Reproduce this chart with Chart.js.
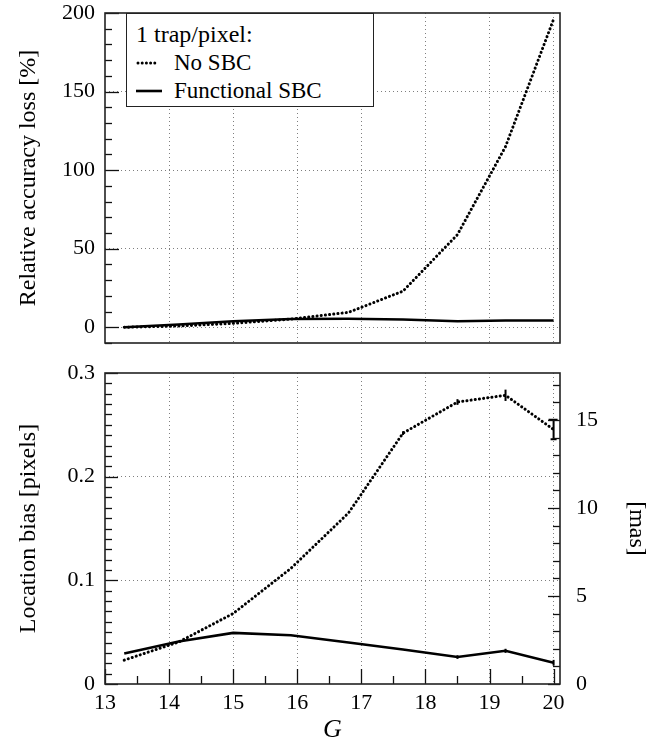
<!DOCTYPE html>
<html>
<head>
<meta charset="utf-8">
<script src="https://cdn.jsdelivr.net/npm/chart.js@4/dist/chart.umd.min.js"></script>
<style>
  html, body { margin: 0; padding: 0; background: #fff; }
  #wrap { position: relative; width: 662px; height: 743px; }
  #topChart { position: absolute; left: 0; top: 0; }
  #bottomChart { position: absolute; left: 0; top: 360px; }
  #legend {
    position: absolute; left: 126px; top: 13px; width: 248px; height: 94px;
    box-sizing: border-box; border: 1.5px solid #222; background: #fff;
    font-family: "Liberation Serif", serif; font-size: 23px; color: #000;
  }
  #legend .row { position: absolute; left: 0; height: 28px; line-height: 28px; white-space: nowrap; }
  #legend .row span { position: absolute; top: 0; }
  #legend svg { position: absolute; top: 11px; }
</style>
</head>
<body>
<div id="wrap">
  <canvas id="topChart" width="662" height="360"></canvas>
  <canvas id="bottomChart" width="662" height="383"></canvas>
  <div id="legend">
    <div class="row" style="top:6px"><span style="left:9px; font-size:24px">1 trap/pixel:</span></div>
    <div class="row" style="top:35px">
      <svg width="30" height="6" style="left:9px"><line x1="2" y1="3" x2="22" y2="3" stroke="#000" stroke-width="3" stroke-linecap="round" stroke-dasharray="0 4.2"/></svg>
      <span style="left:47px">No SBC</span>
    </div>
    <div class="row" style="top:63px">
      <svg width="30" height="6" style="left:9px"><line x1="0" y1="3" x2="26" y2="3" stroke="#000" stroke-width="2.6"/></svg>
      <span style="left:47px">Functional SBC</span>
    </div>
  </div>
</div>
<script>
/* ---------- DATA ---------- */

const gMag = [13.3, 14.15, 15.0, 15.9, 16.8, 17.65, 18.5, 19.25, 20.0];

// top panel: relative accuracy loss [%]
const lossNoSbc = [0, 0.8, 2.5, 5.2, 9.5, 23, 59, 115, 196];
const lossFunctional = [0, 1.8, 3.8, 5.3, 5.4, 5.0, 3.8, 4.3, 4.3];

// bottom panel: location bias [pixels]
const biasNoSbc = [0.023, 0.0405, 0.068, 0.1115, 0.165, 0.242, 0.272, 0.2785, 0.2455];
const biasFunctional = [0.0295, 0.041, 0.0493, 0.047, 0.040, 0.0333, 0.026, 0.032, 0.0205];
const errNoSbc = [0, 0, 0, 0, 0, 0.0008, 0.0018, 0.0045, 0.0095];
const errFunctional = [0, 0, 0, 0, 0, 0, 0.0008, 0.001, 0.0018];

const xTickLabels = [13, 14, 15, 16, 17, 18, 19, 20];
const pixelToMas = 58.9;

/* ---------- STYLE HELPERS ---------- */

const FONT = '"Liberation Serif", serif';
const GRID = "rgba(0,0,0,0.5)";
const DOTS = [1, 3];

const near = (v, step) => Math.abs(v / step - Math.round(v / step)) < 1e-6;

// no extra room for edge labels: the plot box is placed by hand
function noEdgePad(s) {
  s.paddingTop = 0;
  s.paddingBottom = 0;
  s.paddingLeft = 0;
  s.paddingRight = 0;
}

function dottedSet(values, errors) {
  return {
    data: values,
    errors,
    borderColor: "#000",
    borderWidth: 3,
    borderDash: [0.1, 4.1],
    borderCapStyle: "round",
    pointRadius: 0,
    tension: 0,
  };
}

function solidSet(values, errors) {
  return {
    data: values,
    errors,
    borderColor: "#000",
    borderWidth: 2.6,
    pointRadius: 0,
    tension: 0,
  };
}

/* ---------- PLUGINS ---------- */

// inward tick marks + frame around the plot area
function makeTickPlugin(axes) {
  return {
    id: "tickMarks",
    afterDraw(chart) {
      const { ctx, chartArea: a } = chart;
      ctx.save();
      ctx.strokeStyle = "#111";
      ctx.lineWidth = 1.3;
      axes.forEach((ax) => {
        const scale = chart.scales[ax.id];
        scale.ticks.forEach((t) => {
          const len = ax.isMajor(t.value) ? ax.major : ax.minor;
          const p = Math.round(scale.getPixelForValue(t.value)) + 0.5;
          ctx.beginPath();
          if (ax.side === "left") {
            ctx.moveTo(a.left, p);
            ctx.lineTo(a.left + len, p);
          } else if (ax.side === "right") {
            ctx.moveTo(a.right, p);
            ctx.lineTo(a.right - len, p);
          } else {
            ctx.moveTo(p, a.bottom);
            ctx.lineTo(p, a.bottom - len);
          }
          ctx.stroke();
        });
      });
      ctx.lineWidth = 1.6;
      ctx.strokeStyle = "#222";
      ctx.strokeRect(a.left, a.top, a.right - a.left, a.bottom - a.top);
      ctx.restore();
    },
  };
}

const errorBars = {
  id: "errorBars",
  afterDatasetsDraw(chart) {
    const { ctx } = chart;
    ctx.save();
    ctx.strokeStyle = "#000";
    ctx.lineWidth = 2;
    chart.data.datasets.forEach((ds, i) => {
      if (!ds.errors) return;
      const meta = chart.getDatasetMeta(i);
      const xs = chart.scales[meta.xAxisID];
      const ys = chart.scales[meta.yAxisID];
      ds.data.forEach((v, j) => {
        const e = ds.errors[j];
        if (!e) return;
        const x = xs.getPixelForValue(gMag[j]);
        const y1 = ys.getPixelForValue(v + e);
        const y2 = ys.getPixelForValue(v - e);
        const cap = e > 0.006 ? 4 : 0;
        ctx.beginPath();
        ctx.moveTo(x, y1 - 1);
        ctx.lineTo(x, y2 + 1);
        if (cap) {
          ctx.moveTo(x - cap - 1, y1);
          ctx.lineTo(x + cap, y1);
          ctx.moveTo(x - cap + 1, y2);
          ctx.lineTo(x + cap - 1, y2);
        }
        ctx.stroke();
      });
    });
    ctx.restore();
  },
};

/* ---------- TOP PANEL ---------- */

new Chart(document.getElementById("topChart"), {
  type: "line",
  data: {
    labels: gMag,
    datasets: [dottedSet(lossNoSbc), solidSet(lossFunctional)],
  },
  options: {
    responsive: false,
    animation: false,
    layout: { padding: { top: 13, right: 102, left: 0, bottom: 0 } },
    plugins: { legend: { display: false }, tooltip: { enabled: false } },
    scales: {
      x: {
        type: "linear",
        min: 13,
        max: 20.1,
        border: { display: false, dash: DOTS },
        grid: {
          drawTicks: false,
          color: (c) => (Number.isInteger(c.tick.value) && c.tick.value > 13 ? GRID : "transparent"),
        },
        ticks: { display: false, stepSize: 1, includeBounds: false },
        afterFit: (s) => { s.height = 17; noEdgePad(s); },
      },
      y: {
        min: -10,
        max: 200,
        border: { display: false, dash: DOTS },
        grid: {
          drawTicks: false,
          color: (c) => (c.tick.value >= 0 && c.tick.value < 200 && near(c.tick.value, 50) ? GRID : "transparent"),
        },
        ticks: {
          stepSize: 10,
          padding: 10,
          autoSkip: false,
          color: "#000",
          font: { family: FONT, size: 22, lineHeight: 1 },
          callback: (v) => (v >= 0 && near(v, 50) ? String(v) : ""),
        },
        title: {
          display: true,
          text: "Relative accuracy loss [%]",
          color: "#000",
          font: { family: FONT, size: 24, lineHeight: 1.2 },
          padding: { top: 14, bottom: 0 },
        },
        afterFit: (s) => { s.width = 105; noEdgePad(s); },
      },
    },
  },
  plugins: [
    makeTickPlugin([
      { id: "y", side: "left", major: 14, minor: 7, isMajor: (v) => near(v, 50) },
    ]),
  ],
});

/* ---------- BOTTOM PANEL ---------- */

new Chart(document.getElementById("bottomChart"), {
  type: "line",
  data: {
    labels: gMag,
    datasets: [
      dottedSet(biasNoSbc, errNoSbc),
      solidSet(biasFunctional, errFunctional),
    ],
  },
  options: {
    responsive: false,
    animation: false,
    layout: { padding: { top: 13, right: 0, left: 0, bottom: 0 } },
    plugins: { legend: { display: false }, tooltip: { enabled: false } },
    scales: {
      x: {
        type: "linear",
        min: 13,
        max: 20.1,
        border: { display: false, dash: DOTS },
        grid: {
          drawTicks: false,
          color: (c) => (Number.isInteger(c.tick.value) && c.tick.value > 13 ? GRID : "transparent"),
        },
        ticks: {
          stepSize: 0.5,
          includeBounds: false,
          autoSkip: false,
          maxRotation: 0,
          padding: 6,
          color: "#000",
          font: { family: FONT, size: 22, lineHeight: 1.2 },
          callback: (v) => (xTickLabels.includes(v) ? String(v) : ""),
        },
        title: {
          display: true,
          text: "G",
          color: "#000",
          font: { family: FONT, size: 26, style: "italic", lineHeight: 1 },
          padding: { top: 3, bottom: 0 },
        },
        afterFit: (s) => { s.height = 59; noEdgePad(s); },
      },
      y: {
        min: 0,
        max: 0.3,
        border: { display: false, dash: DOTS },
        grid: {
          drawTicks: false,
          color: (c) => (c.tick.value > 0 && c.tick.value < 0.29 && near(c.tick.value, 0.1) ? GRID : "transparent"),
        },
        ticks: {
          stepSize: 0.01,
          padding: 10,
          autoSkip: false,
          color: "#000",
          font: { family: FONT, size: 22, lineHeight: 1 },
          callback: (v) => (near(v, 0.1) ? (v === 0 ? "0" : v.toFixed(1)) : ""),
        },
        title: {
          display: true,
          text: "Location bias [pixels]",
          color: "#000",
          font: { family: FONT, size: 24, lineHeight: 1.2 },
          padding: { top: 14, bottom: 0 },
        },
        afterFit: (s) => { s.width = 105; noEdgePad(s); },
      },
      y2: {
        position: "right",
        min: 0,
        max: 0.3 * pixelToMas,
        border: { display: false },
        grid: { display: false, drawOnChartArea: false },
        ticks: {
          stepSize: 1,
          includeBounds: false,
          padding: 8,
          autoSkip: false,
          color: "#000",
          font: { family: FONT, size: 22, lineHeight: 1 },
          callback: (v) => (v % 5 === 0 ? String(v) : ""),
        },
        title: {
          display: true,
          text: "[mas]",
          color: "#000",
          font: { family: FONT, size: 24, lineHeight: 1.2 },
          padding: { top: 11, bottom: 0 },
        },
        afterFit: (s) => { s.width = 102; noEdgePad(s); },
      },
    },
  },
  plugins: [
    errorBars,
    makeTickPlugin([
      { id: "y", side: "left", major: 13, minor: 7, isMajor: (v) => near(v, 0.1) },
      { id: "y2", side: "right", major: 12, minor: 7, isMajor: (v) => v % 5 === 0 },
      { id: "x", side: "bottom", major: 15, minor: 8, isMajor: (v) => Number.isInteger(v) },
    ]),
  ],
});
</script>
</body>
</html>
